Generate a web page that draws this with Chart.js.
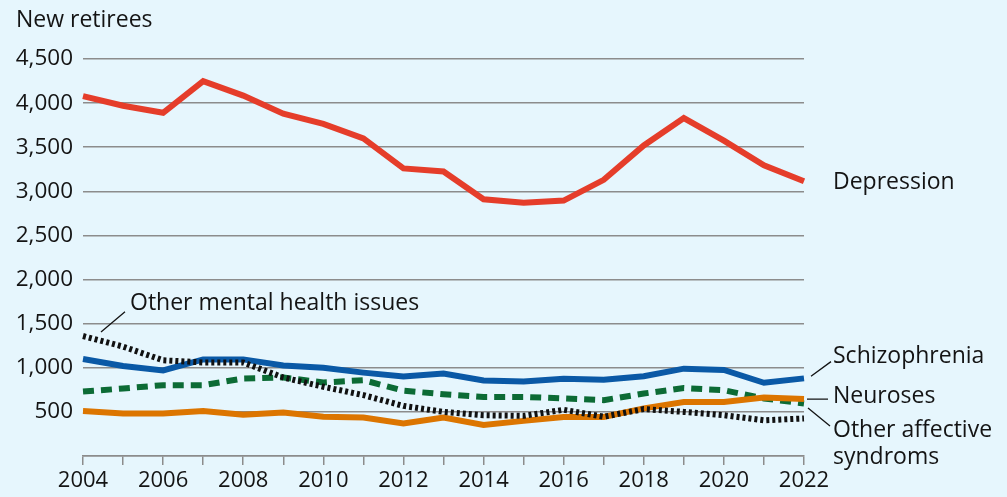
<!DOCTYPE html>
<html>
<head>
<meta charset="utf-8">
<script src="https://cdn.jsdelivr.net/npm/chart.js@4/dist/chart.umd.min.js"></script>
<style>
  html, body { margin: 0; padding: 0; background: #e6f6fd; }
  #wrap { width: 1007px; height: 497px; position: relative; }
</style>
</head>
<body>
<div id="wrap"><canvas id="c" width="1007" height="497"></canvas></div>
<script>
const years = ['2004','2005','2006','2007','2008','2009','2010','2011','2012','2013','2014','2015','2016','2017','2018','2019','2020','2021','2022'];
const depression    = [4080,3970,3890,4250,4085,3880,3765,3600,3260,3225,2910,2870,2895,3130,3520,3830,3575,3295,3115];
const schizophrenia = [1100,1020,970,1095,1095,1025,1000,945,900,935,855,845,875,865,905,990,975,830,880];
const neuroses      = [510,483,483,510,468,494,445,437,368,435,352,398,443,443,540,612,612,662,645];
const otherAffective= [730,765,803,803,878,890,833,860,740,700,670,670,652,633,708,770,746,652,596];
const otherMental   = [1360,1240,1085,1060,1060,890,785,690,568,500,462,455,524,445,532,500,462,405,425];
const yTicks = [0,500,1000,1500,2000,2500,3000,3500,4000,4500];

const FONT = '"Open Sans", "Noto Sans", sans-serif';
const TXT = '#141414';
const GRID = '#8c8c8c';

const labelsPlugin = {
  id: 'labels',
  afterDraw(chart) {
    const ctx = chart.ctx;
    const x = chart.scales.x, y = chart.scales.y;
    const xr = x.getPixelForValue(years.length - 1);
    ctx.save();
    ctx.fillStyle = TXT;
    ctx.font = '23px ' + FONT;
    ctx.textBaseline = 'middle';
    ctx.textAlign = 'left';
    ctx.fillText('New retirees', 16, 20);
    const lx = xr + 29;
    ctx.fillText('Depression', lx, y.getPixelForValue(3115) + 1);
    ctx.fillText('Schizophrenia', lx, y.getPixelForValue(1130));
    ctx.fillText('Neuroses', lx, y.getPixelForValue(680));
    ctx.fillText('Other affective', lx, y.getPixelForValue(285));
    ctx.fillText('syndroms', lx, y.getPixelForValue(-15));
    const xl = x.getPixelForValue(0);
    ctx.fillText('Other mental health issues', xl + 47, y.getPixelForValue(1725));
    ctx.strokeStyle = TXT;
    ctx.lineWidth = 1.3;
    ctx.beginPath();
    ctx.moveTo(xr + 7, y.getPixelForValue(905)); ctx.lineTo(xr + 27, y.getPixelForValue(1070));
    ctx.moveTo(xr + 3, y.getPixelForValue(645)); ctx.lineTo(xr + 24, y.getPixelForValue(645));
    ctx.moveTo(xr + 4, y.getPixelForValue(545)); ctx.lineTo(xr + 26, y.getPixelForValue(340));
    ctx.moveTo(xl + 18, y.getPixelForValue(1405)); ctx.lineTo(xl + 42, y.getPixelForValue(1635));
    ctx.stroke();
    ctx.restore();
  }
};

const bgPlugin = {
  id: 'bg',
  beforeDraw(chart) {
    const ctx = chart.ctx;
    ctx.save();
    ctx.fillStyle = '#e6f6fd';
    ctx.fillRect(0, 0, chart.width, chart.height);
    ctx.restore();
  }
};

function ds(label, data, color, order, dash) {
  return {
    label, data, borderColor: color, backgroundColor: color,
    borderWidth: 6, pointRadius: 0, tension: 0, fill: false,
    borderDash: dash || [], borderCapStyle: 'butt', borderJoinStyle: 'miter', order
  };
}

new Chart(document.getElementById('c'), {
  type: 'line',
  data: {
    labels: years,
    datasets: [
      ds('Depression', depression, '#e53d2a', 5),
      ds('Schizophrenia', schizophrenia, '#0a59a6', 4),
      ds('Other affective syndroms', otherAffective, '#0c6b35', 3, [11, 7]),
      ds('Neuroses', neuroses, '#dc7500', 2),
      ds('Other mental health issues', otherMental, '#111111', 1, [3, 3])
    ]
  },
  options: {
    responsive: false,
    animation: false,
    devicePixelRatio: 1,
    layout: { padding: { left: 0, right: 203, top: 59, bottom: 0 } },
    plugins: { legend: { display: false }, tooltip: { enabled: false } },
    scales: {
      x: {
        type: 'category',
        offset: false,
        afterFit(s) { s.height = 41; },
        border: { display: true, color: GRID, width: 1.5 },
        grid: { drawOnChartArea: false, drawTicks: true, tickLength: 9, color: GRID, lineWidth: 1.5 },
        ticks: {
          autoSkip: false, maxRotation: 0, color: TXT, padding: 3,
          font: { family: FONT, size: 22 },
          callback(v, i) { return i % 2 === 0 ? years[i] : ''; }
        }
      },
      y: {
        min: 0, max: 4500,
        afterFit(s) { s.width = 83; },
        afterBuildTicks(s) { s.ticks = yTicks.map(v => ({ value: v })); },
        border: { display: false },
        grid: { drawTicks: false, color: GRID, lineWidth: 1.5 },
        ticks: {
          color: TXT, padding: 10,
          font: { family: FONT, size: 22.5 },
          callback(v) { return v === 0 ? '' : v.toLocaleString('en-US'); }
        }
      }
    }
  },
  plugins: [bgPlugin, labelsPlugin]
});
</script>
</body>
</html>
